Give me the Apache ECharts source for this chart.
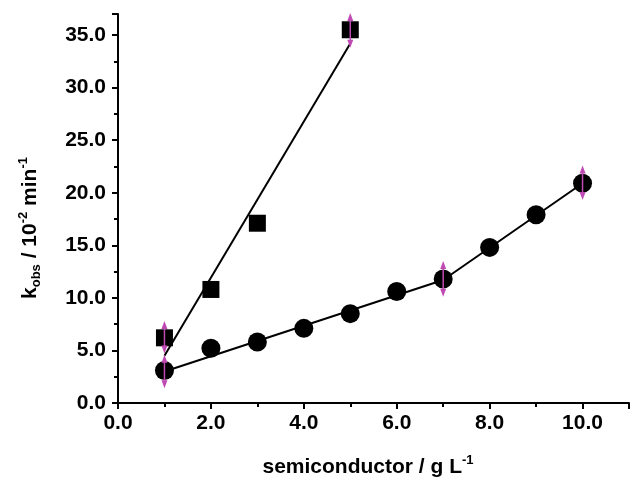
<!DOCTYPE html>
<html>
<head>
<meta charset="utf-8">
<script src="https://cdn.jsdelivr.net/npm/echarts@6/dist/echarts.min.js"></script>
<style>
  html, body { margin: 0; padding: 0; background: #fff; }
  #chart { width: 632px; height: 479px; }
</style>
</head>
<body>
<div id="chart"></div>
<script>
// squares
const sqX = [1, 2, 3, 5]
const sqY = [6.2, 10.8, 17.1, 35.5]
const sqFit = [[1, 4.5], [5, 34.2]]
// circles
const circX = [1, 2, 3, 4, 5, 6, 7, 8, 9, 10]
const circY = [3.1, 5.2, 5.8, 7.1, 8.5, 10.6, 11.8, 14.8, 17.9, 20.9]
const circFit = [[1, 3.0], [7, 11.7], [10, 20.9]]
// error bars: x, low, high
const errX = [1, 1, 5, 7, 10]
const errLow = [4.7, 1.4, 33.8, 10.1, 19.3]
const errHigh = [7.8, 4.6, 37.1, 13.5, 22.6]

const errColor = '#c04ab4'
const fam = 'Liberation Sans, Arial, sans-serif'
const labelFont = { fontFamily: fam, fontWeight: 'bold', fontSize: 21, color: '#000' }

const chart = echarts.init(document.getElementById('chart'))

const option = {
    animation: false,
    grid: { left: 118, top: 14, right: -1, bottom: 76 },
    xAxis: {
        type: 'value',
        min: 0,
        max: 11,
        interval: 2,
        axisLine: { lineStyle: { color: '#000', width: 2 } },
        axisTick: { lineStyle: { color: '#000', width: 2 }, length: 6 },
        minorTick: { show: true, splitNumber: 2, length: 4, lineStyle: { color: '#000', width: 2 } },
        splitLine: { show: false },
        axisLabel: Object.assign({
            margin: 10,
            formatter: v => (v % 2 === 0 ? v.toFixed(1) : '')
        }, labelFont)
    },
    yAxis: {
        type: 'value',
        min: 0,
        max: 37,
        interval: 5,
        axisLine: { lineStyle: { color: '#000', width: 2 } },
        axisTick: { lineStyle: { color: '#000', width: 2 }, length: 6 },
        minorTick: { show: true, splitNumber: 2, length: 4, lineStyle: { color: '#000', width: 2 } },
        splitLine: { show: false },
        axisLabel: Object.assign({
            margin: 12,
            formatter: v => (v % 5 === 0 ? v.toFixed(1) : '')
        }, labelFont)
    },
    graphic: [
        {
            type: 'text',
            x: 368,
            y: 467,
            style: {
                text: 'semiconductor / g L{sup|-1}',
                align: 'center',
                verticalAlign: 'middle',
                fontFamily: fam,
                fontWeight: 'bold',
                fontSize: 21,
                fill: '#000',
                rich: {
                    sup: { fontSize: 13, fontWeight: 'bold', fontFamily: fam, padding: [0, 0, 14, 0] }
                }
            }
        },
        {
            type: 'text',
            x: 30,
            y: 228,
            rotation: Math.PI / 2,
            style: {
                text: 'k{sub|obs} / 10{sup|-2} min{sup|-1}',
                align: 'center',
                verticalAlign: 'middle',
                fontFamily: fam,
                fontWeight: 'bold',
                fontSize: 21,
                fill: '#000',
                rich: {
                    sub: { fontSize: 13, fontWeight: 'bold', fontFamily: fam, padding: [12, 0, 0, 0] },
                    sup: { fontSize: 13, fontWeight: 'bold', fontFamily: fam, padding: [0, 0, 14, 0] }
                }
            }
        }
    ],
    series: [
        {
            type: 'line',
            data: sqFit,
            showSymbol: false,
            lineStyle: { color: '#000', width: 2 },
            z: 2
        },
        {
            type: 'line',
            data: circFit,
            showSymbol: false,
            lineStyle: { color: '#000', width: 2 },
            z: 2
        },
        {
            type: 'scatter',
            data: sqX.map((x, i) => [x, sqY[i]]),
            symbol: 'rect',
            symbolSize: 17,
            itemStyle: { color: '#000', opacity: 1 },
            z: 3
        },
        {
            type: 'scatter',
            data: circX.map((x, i) => [x, circY[i]]),
            symbol: 'circle',
            symbolSize: 19,
            itemStyle: { color: '#000', opacity: 1 },
            z: 3
        },
        {
            type: 'custom',
            data: errX.map((x, i) => [x, errLow[i], errHigh[i]]),
            z: 4,
            renderItem: function (params, api) {
                const lo = api.coord([api.value(0), api.value(1)])
                const hi = api.coord([api.value(0), api.value(2)])
                const w = 3, h = 8
                return {
                    type: 'group',
                    children: [
                        {
                            type: 'line',
                            shape: { x1: lo[0], y1: lo[1] - h / 2, x2: hi[0], y2: hi[1] + h / 2 },
                            style: { stroke: errColor, lineWidth: 1.5 }
                        },
                        {
                            type: 'polygon',
                            shape: { points: [[hi[0], hi[1]], [hi[0] - w, hi[1] + h], [hi[0] + w, hi[1] + h]] },
                            style: { fill: errColor }
                        },
                        {
                            type: 'polygon',
                            shape: { points: [[lo[0], lo[1]], [lo[0] - w, lo[1] - h], [lo[0] + w, lo[1] - h]] },
                            style: { fill: errColor }
                        }
                    ]
                }
            }
        }
    ]
}

chart.setOption(option)
</script>
</body>
</html>
